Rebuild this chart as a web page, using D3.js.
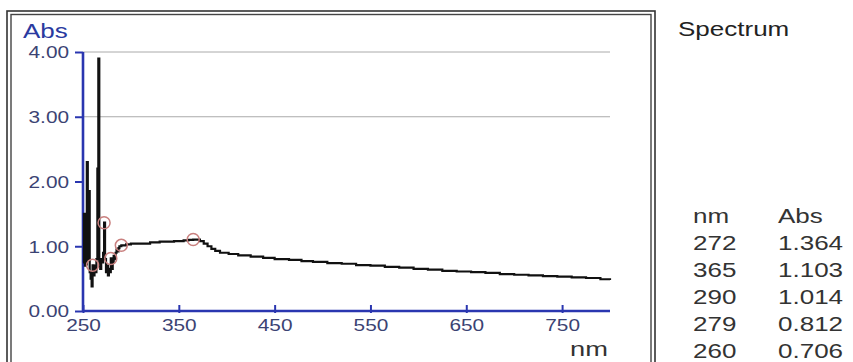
<!DOCTYPE html>
<html><head><meta charset="utf-8">
<script src="https://cdn.jsdelivr.net/npm/d3@7"></script>
<style>body{margin:0;background:#fff}svg{display:block}</style>
</head><body>
<svg id="c" width="853" height="362"></svg>
<script>
// wavelength (nm) and absorbance
const wavelengths = [250,251,252,253,254,255,256,257,258,259,260,261,262,263,264,265,266,267,268,269,270,271,272,273,274,275,276,277,278,279,280,281,282,283,284,285,286,287,288,290,295,300,320,330,345,355,360,365,372,376,380,384,388,393,402,412,425,438,450,465,478,490,505,520,535,550,565,580,595,610,625,640,655,670,685,700,715,730,745,760,775,790,800];
const absorbance  = [0.75,1.5,0.7,0.72,2.3,0.8,1.85,0.6,0.5,0.38,0.706,0.55,0.7,0.6,0.8,2.2,3.9,0.7,0.65,0.8,0.75,0.9,1.364,0.8,0.6,0.7,0.55,0.65,0.6,0.812,0.65,0.75,0.85,0.8,0.9,0.95,0.92,0.97,1.0,1.014,1.03,1.04,1.06,1.07,1.08,1.09,1.10,1.103,1.08,1.04,1.0,0.96,0.93,0.9,0.88,0.86,0.84,0.82,0.80,0.79,0.77,0.76,0.74,0.73,0.71,0.70,0.68,0.67,0.65,0.64,0.62,0.61,0.60,0.59,0.57,0.56,0.55,0.54,0.53,0.52,0.51,0.49,0.48];
const peakNm  = [272,365,290,279,260];
const peakAbs = [1.364,1.103,1.014,0.812,0.706];
const xTicks = [250,350,450,550,650,750];
const yTicks = [0,1,2,3,4];

const svg = d3.select("#c");
const x = d3.scaleLinear().domain([250,800]).range([83,610]);
const y = d3.scaleLinear().domain([0,4]).range([311,52]);
const blue = "#2a36b0", lab = "#3b4373";
const ff = "Liberation Sans, Arial, sans-serif";

// double frame
svg.append("rect").attr("x",7).attr("y",11).attr("width",648).attr("height",360).attr("fill","none").attr("stroke","#333").attr("stroke-width",1.6);
svg.append("rect").attr("x",11).attr("y",14.5).attr("width",640).attr("height",360).attr("fill","none").attr("stroke","#444").attr("stroke-width",1.4);

// faint reference lines
[3,4].forEach(v=>svg.append("line").attr("x1",x(250)).attr("x2",x(800)).attr("y1",y(v)).attr("y2",y(v)).attr("stroke","#aaa").attr("stroke-width",1));

// axes
const yAxis = svg.append("g").attr("transform",`translate(${x(250)},0)`)
  .call(d3.axisLeft(y).tickValues(yTicks).tickFormat(d3.format(".2f")).tickSize(8).tickPadding(6));
const xAxis = svg.append("g").attr("transform",`translate(0,${y(0)})`)
  .call(d3.axisBottom(x).tickValues(xTicks).tickSize(-6).tickPadding(9));
xAxis.selectAll(".tick line").attr("y2",-6).attr("y1",2);
xAxis.select(".domain").attr("d",`M${x(250)},0H${x(800)}`);
yAxis.select(".domain").attr("d",`M0,${y(4)}V${y(0)}`);
[xAxis,yAxis].forEach(g=>{
  g.attr("font-size",null).attr("font-family",null);
  g.selectAll(".domain").attr("stroke",blue).attr("stroke-width",2.6);
  g.selectAll(".tick line").attr("stroke",blue).attr("stroke-width",2);
  g.selectAll("text").attr("fill",lab).style("font-family",ff).style("font-size","16px");
});
yAxis.selectAll(".tick text").attr("dy","0.36em");

svg.append("text").attr("x",23).attr("y",38).text("Abs").attr("fill","#2a3aa0").style("font-family",ff).style("font-size","20px");
svg.append("text").attr("x",570).attr("y",356).text("nm").attr("fill","#333").style("font-family",ff).style("font-size","21px");

// spectrum line
const data = wavelengths.map((w,i)=>({w,a:absorbance[i]}));
svg.append("path").datum(data)
  .attr("d",d3.line().x(d=>x(d.w)).y(d=>y(d.a)).curve(d3.curveStepAfter))
  .attr("fill","none").attr("stroke","#111").attr("stroke-width",2.2);

// peak markers
svg.selectAll("circle.pk").data(peakNm.map((w,i)=>({w,a:peakAbs[i]}))).join("circle")
  .attr("cx",d=>x(d.w)).attr("cy",d=>y(d.a)).attr("r",6)
  .attr("fill","none").attr("stroke","#c9807f").attr("stroke-width",1.5);

// right panel
const T = (tx,ty,s,col)=>svg.append("text").attr("x",tx).attr("y",ty).text(s).attr("fill",col||"#333").style("font-family",ff).style("font-size","20px");
T(678,36,"Spectrum","#222");
T(693,223,"nm"); T(778,223,"Abs");
peakNm.forEach((w,i)=>{
  const yy = 250 + i*27;
  T(693,yy,w);
  T(778,yy,d3.format(".3f")(peakAbs[i]));
});

// scanned print is stretched horizontally: widen all text
svg.selectAll("text").each(function(){
  const w = this.getComputedTextLength();
  d3.select(this).attr("textLength",w*1.3).attr("lengthAdjust","spacingAndGlyphs");
});
</script>
</body></html>
